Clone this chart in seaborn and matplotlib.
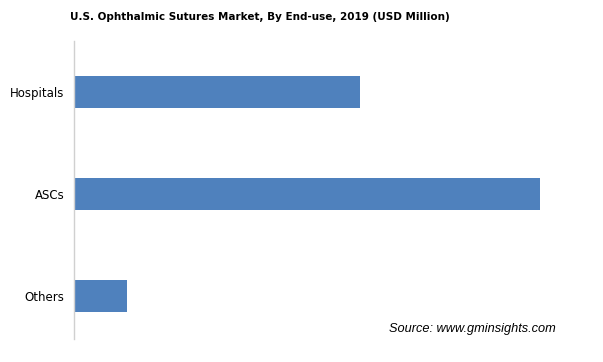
import matplotlib
matplotlib.use("Agg")
import matplotlib.pyplot as plt
import seaborn as sns
import pandas as pd

# values (USD Million, estimated)
end_use = ["Hospitals", "ASCs", "Others"]
revenue = [28.6, 46.6, 5.3]

bar_color = "#4F81BD"

df = pd.DataFrame({"End-use": end_use, "Revenue": revenue})

sns.set_theme(style="white")
plt.rcParams["font.family"] = ["DejaVu Sans"]

fig = plt.figure(figsize=(6.03, 3.62), dpi=100)
ax = fig.add_axes([74 / 603, (362 - 339) / 362, 486 / 603, 298 / 362])

sns.barplot(data=df, x="Revenue", y="End-use", color=bar_color,
            width=0.31, saturation=1, linewidth=0, ax=ax)

ax.set_xlim(0, 48.6)
ax.set_ylim(2.42, -0.5)
ax.set_xlabel("")
ax.set_ylabel("")
ax.set_xticks([])
ax.tick_params(axis="y", length=0, pad=7, labelsize=8.5, labelcolor="#000000")

for side in ["top", "right", "bottom"]:
    ax.spines[side].set_visible(False)
ax.spines["left"].set_color("#D0D0D0")
ax.spines["left"].set_linewidth(1)

fig.text(260 / 603, 1 - 17 / 362, "U.S. Ophthalmic Sutures Market, By End-use, 2019 (USD Million)",
         ha="center", va="center", fontsize=7.5, fontweight="bold", color="#000000")
fig.text(556 / 603, 1 - 329 / 362, "Source: www.gminsights.com",
         ha="right", va="center", fontsize=9.2, style="italic",
         family=["Liberation Sans", "DejaVu Sans"], color="#000000")

fig.savefig("out.png", dpi=100, facecolor="white")
